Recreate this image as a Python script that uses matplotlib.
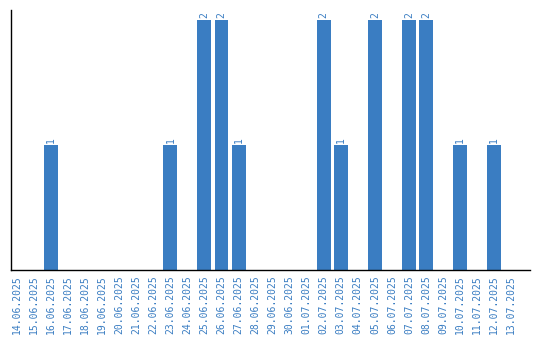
import matplotlib
matplotlib.use("Agg")
import matplotlib.pyplot as plt

dates = ["14.06.2025", "15.06.2025", "16.06.2025", "17.06.2025", "18.06.2025",
         "19.06.2025", "20.06.2025", "21.06.2025", "22.06.2025", "23.06.2025",
         "24.06.2025", "25.06.2025", "26.06.2025", "27.06.2025", "28.06.2025",
         "29.06.2025", "30.06.2025", "01.07.2025", "02.07.2025", "03.07.2025",
         "04.07.2025", "05.07.2025", "06.07.2025", "07.07.2025", "08.07.2025",
         "09.07.2025", "10.07.2025", "11.07.2025", "12.07.2025", "13.07.2025"]
values = [0, 0, 1, 0, 0, 0, 0, 0, 0, 1,
          0, 2, 2, 1, 0, 0, 0, 0, 2, 1,
          0, 2, 0, 2, 2, 0, 1, 0, 1, 0]

color = "#3a7dc2"
fig = plt.figure(figsize=(5.4, 3.4), dpi=100)
ax = fig.add_axes([11/540, 70/340, 519/540, 260/340])
x = list(range(len(dates)))
ax.bar(x, values, width=0.82, color=color)
for xi, v in zip(x, values):
    if v > 0:
        ax.text(xi, v + 0.015, str(v), rotation=90, ha="center", va="bottom",
                color=color, fontsize=7, family="DejaVu Sans Mono")
ax.set_xlim(-0.35, 30.1)
ax.set_ylim(0, 2.08)
ax.set_xticks(x)
ax.set_xticklabels(dates, rotation=90, color=color, fontsize=7, family="DejaVu Sans Mono")
ax.tick_params(axis="x", length=0, pad=4)
ax.set_yticks([])
ax.spines["top"].set_visible(False)
ax.spines["right"].set_visible(False)
ax.spines["left"].set_linewidth(1.0)
ax.spines["bottom"].set_linewidth(1.0)
fig.savefig("out.png", dpi=100)
